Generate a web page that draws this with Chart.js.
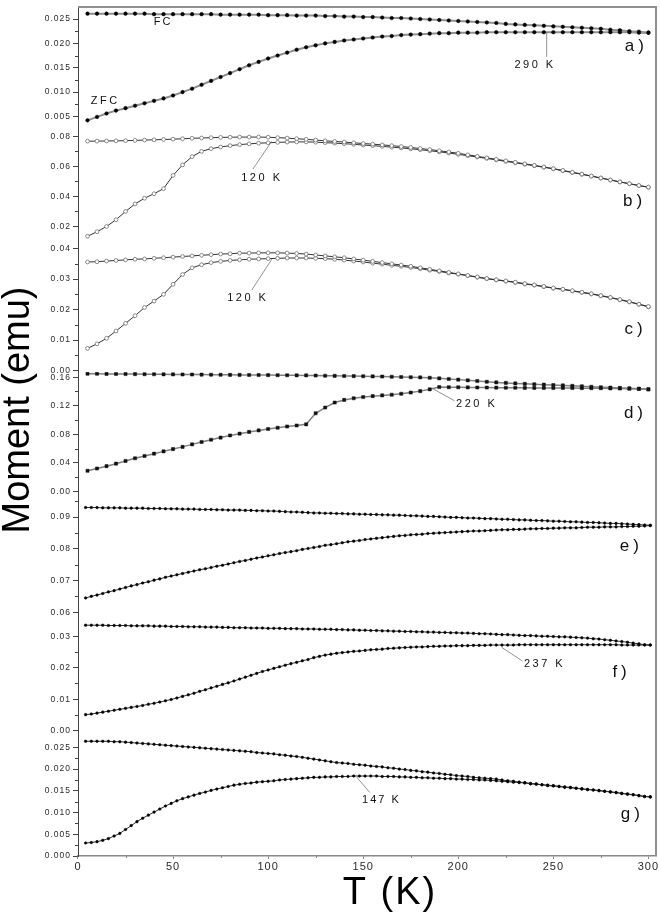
<!DOCTYPE html>
<html>
<head>
<meta charset="utf-8">
<script src="https://cdn.jsdelivr.net/npm/chart.js@4.4.1/dist/chart.umd.min.js"></script>
<style>
  html, body { margin: 0; padding: 0; background: #fff; }
</style>
</head>
<body>
<canvas id="momentChart" width="661" height="913"></canvas>
<script>
// temperatures (K), panels a-d sampled every 5 K, e-g every 3 K
const T5 = [5, 10, 15, 20, 25, 30, 35, 40, 45, 50,
  55, 60, 65, 70, 75, 80, 85, 90, 95, 100,
  105, 110, 115, 120, 125, 130, 135, 140, 145, 150,
  155, 160, 165, 170, 175, 180, 185, 190, 195, 200,
  205, 210, 215, 220, 225, 230, 235, 240, 245, 250,
  255, 260, 265, 270, 275, 280, 285, 290, 295, 300];
const T3 = [4, 7, 10, 13, 16, 19, 22, 25, 28, 31,
  34, 37, 40, 43, 46, 49, 52, 55, 58, 61,
  64, 67, 70, 73, 76, 79, 82, 85, 88, 91,
  94, 97, 100, 103, 106, 109, 112, 115, 118, 121,
  124, 127, 130, 133, 136, 139, 142, 145, 148, 151,
  154, 157, 160, 163, 166, 169, 172, 175, 178, 181,
  184, 187, 190, 193, 196, 199, 202, 205, 208, 211,
  214, 217, 220, 223, 226, 229, 232, 235, 238, 241,
  244, 247, 250, 253, 256, 259, 262, 265, 268, 271,
  274, 277, 280, 283, 286, 289, 292, 295, 298, 301];

// moment (emu)
const aFC = [.0261, .0261, .0261, .0261, .0261, .0261, .0261, .0260, .0260, .0260,
  .0260, .0260, .0260, .0260, .0259, .0259, .0259, .0259, .0259, .0258,
  .0258, .0258, .0257, .0257, .0257, .0256, .0256, .0255, .0255, .0254,
  .0254, .0253, .0252, .0252, .0251, .0250, .0249, .0248, .0247, .0246,
  .0245, .0244, .0243, .0242, .0240, .0239, .0238, .0237, .0236, .0235,
  .0234, .0233, .0232, .0231, .0230, .0228, .0227, .0225, .0224, .0222];
const aZFC = [.0042, .0049, .0056, .0062, .0067, .0072, .0077, .0082, .0087, .0093,
  .0100, .0107, .0115, .0123, .0131, .0139, .0147, .0155, .0162, .0169,
  .0175, .0181, .0187, .0192, .0196, .0200, .0203, .0206, .0208, .0210,
  .0212, .0214, .0215, .0217, .0218, .0219, .0220, .0221, .0221, .0222,
  .0222, .0222, .0223, .0223, .0223, .0223, .0223, .0223, .0223, .0223,
  .0223, .0223, .0223, .0223, .0223, .0223, .0223, .0223, .0222, .0222];

const bFC = [.0768, .0768, .0769, .0770, .0771, .0773, .0775, .0777, .0779, .0781,
  .0784, .0787, .0789, .0791, .0793, .0794, .0795, .0795, .0795, .0794,
  .0791, .0788, .0784, .0780, .0775, .0770, .0766, .0762, .0757, .0752,
  .0748, .0743, .0738, .0732, .0726, .0719, .0712, .0704, .0696, .0687,
  .0677, .0667, .0657, .0647, .0637, .0627, .0617, .0607, .0596, .0585,
  .0573, .0561, .0549, .0536, .0523, .0510, .0497, .0485, .0473, .0462];
const bZFC = [.0135, .0165, .0200, .0245, .0300, .0350, .0388, .0418, .0452, .0540,
  .0610, .0665, .0700, .0718, .0729, .0738, .0745, .0750, .0754, .0757,
  .0760, .0762, .0763, .0763, .0761, .0758, .0755, .0751, .0747, .0742,
  .0738, .0733, .0728, .0723, .0717, .0711, .0704, .0697, .0689, .0680,
  .0671, .0662, .0653, .0643, .0633, .0624, .0614, .0604, .0594, .0583,
  .0571, .0559, .0547, .0535, .0522, .0509, .0496, .0484, .0472, .0461];

const cFC = [.0356, .0357, .0359, .0361, .0363, .0365, .0366, .0368, .0370, .0372,
  .0374, .0376, .0378, .0380, .0382, .0383, .0385, .0385, .0386, .0386,
  .0386, .0385, .0384, .0382, .0379, .0376, .0373, .0370, .0366, .0362,
  .0358, .0354, .0350, .0346, .0342, .0337, .0332, .0327, .0322, .0317,
  .0312, .0307, .0302, .0298, .0294, .0290, .0285, .0281, .0276, .0271,
  .0267, .0262, .0257, .0252, .0246, .0240, .0233, .0226, .0218, .0210];
const cZFC = [.0073, .0088, .0106, .0130, .0155, .0180, .0207, .0228, .0250, .0283,
  .0315, .0337, .0347, .0354, .0358, .0361, .0363, .0365, .0366, .0367,
  .0368, .0369, .0369, .0369, .0368, .0367, .0365, .0362, .0359, .0356,
  .0352, .0349, .0345, .0342, .0338, .0334, .0329, .0325, .0320, .0316,
  .0311, .0306, .0301, .0297, .0293, .0289, .0284, .0280, .0275, .0270,
  .0266, .0261, .0256, .0251, .0245, .0239, .0232, .0225, .0217, .0209];

const dFC = [.1648, .1648, .1646, .1645, .1644, .1643, .1642, .1641, .1640, .1639,
  .1638, .1637, .1636, .1635, .1634, .1633, .1632, .1631, .1630, .1629,
  .1628, .1627, .1626, .1625, .1623, .1621, .1619, .1617, .1615, .1613,
  .1611, .1609, .1606, .1603, .1600, .1597, .1592, .1584, .1575, .1566,
  .1556, .1546, .1536, .1527, .1520, .1513, .1507, .1501, .1496, .1490,
  .1485, .1479, .1473, .1466, .1460, .1455, .1450, .1445, .1440, .1430];
const dZFC = [.0290, .0322, .0355, .0390, .0428, .0465, .0498, .0530, .0562, .0594,
  .0625, .0660, .0693, .0725, .0755, .0785, .0810, .0834, .0855, .0875,
  .0893, .0910, .0924, .0940, .1095, .1175, .1245, .1282, .1305, .1322,
  .1335, .1345, .1355, .1368, .1385, .1405, .1430, .1462, .1460, .1459,
  .1457, .1456, .1455, .1454, .1453, .1452, .1451, .1450, .1450, .1449,
  .1449, .1448, .1447, .1446, .1445, .1443, .1441, .1438, .1435, .1430];

const eFC = [.0930, .0930, .0930, .0929, .0929, .0929, .0929, .0928, .0928, .0928,
  .0928, .0927, .0927, .0927, .0926, .0926, .0926, .0925, .0925, .0925,
  .0924, .0924, .0924, .0923, .0923, .0922, .0922, .0922, .0921, .0921,
  .0920, .0920, .0919, .0919, .0918, .0917, .0916, .0916, .0915, .0914,
  .0913, .0913, .0912, .0912, .0911, .0911, .0910, .0910, .0909, .0909,
  .0908, .0908, .0907, .0907, .0906, .0906, .0905, .0904, .0904, .0903,
  .0902, .0902, .0901, .0900, .0899, .0899, .0898, .0897, .0897, .0896,
  .0895, .0895, .0894, .0893, .0893, .0892, .0891, .0891, .0890, .0889,
  .0889, .0888, .0887, .0887, .0886, .0885, .0885, .0884, .0883, .0883,
  .0882, .0881, .0880, .0880, .0879, .0878, .0877, .0876, .0875, .0874];
const eZFC = [.0645, .0650, .0654, .0659, .0664, .0668, .0673, .0678, .0683, .0687,
  .0692, .0696, .0701, .0705, .0710, .0714, .0718, .0722, .0726, .0730,
  .0734, .0737, .0741, .0745, .0748, .0752, .0756, .0760, .0763, .0767,
  .0771, .0774, .0778, .0781, .0785, .0788, .0791, .0794, .0798, .0801,
  .0804, .0807, .0811, .0813, .0816, .0819, .0822, .0824, .0826, .0829,
  .0831, .0833, .0835, .0837, .0839, .0841, .0842, .0844, .0845, .0846,
  .0848, .0849, .0850, .0851, .0852, .0853, .0854, .0855, .0856, .0856,
  .0857, .0858, .0859, .0860, .0860, .0861, .0861, .0862, .0863, .0863,
  .0864, .0864, .0865, .0865, .0866, .0866, .0866, .0867, .0868, .0868,
  .0868, .0869, .0869, .0869, .0870, .0870, .0871, .0871, .0872, .0873];

const fFC = [.0335, .0335, .0335, .0335, .0334, .0334, .0334, .0334, .0333, .0333,
  .0333, .0333, .0332, .0332, .0332, .0331, .0331, .0331, .0330, .0330,
  .0330, .0329, .0329, .0329, .0328, .0328, .0327, .0327, .0327, .0326,
  .0326, .0326, .0325, .0325, .0325, .0324, .0324, .0324, .0323, .0323,
  .0323, .0322, .0322, .0322, .0321, .0321, .0320, .0320, .0319, .0319,
  .0318, .0318, .0317, .0317, .0316, .0316, .0315, .0315, .0314, .0314,
  .0313, .0313, .0312, .0312, .0311, .0311, .0310, .0310, .0309, .0308,
  .0308, .0307, .0306, .0305, .0305, .0304, .0303, .0302, .0302, .0301,
  .0300, .0300, .0299, .0298, .0298, .0297, .0296, .0295, .0294, .0292,
  .0291, .0289, .0287, .0285, .0283, .0281, .0278, .0276, .0273, .0272];
const fZFC = [.0051, .0053, .0056, .0059, .0062, .0065, .0068, .0071, .0074, .0077,
  .0080, .0084, .0087, .0091, .0095, .0099, .0104, .0109, .0114, .0119,
  .0125, .0130, .0136, .0141, .0147, .0152, .0158, .0164, .0170, .0176,
  .0182, .0188, .0193, .0198, .0203, .0208, .0213, .0217, .0222, .0226,
  .0232, .0236, .0240, .0243, .0246, .0248, .0250, .0252, .0253, .0255,
  .0257, .0258, .0259, .0261, .0262, .0263, .0264, .0265, .0266, .0266,
  .0267, .0268, .0268, .0269, .0269, .0270, .0270, .0270, .0271, .0271,
  .0271, .0272, .0272, .0272, .0272, .0272, .0273, .0273, .0273, .0273,
  .0273, .0273, .0273, .0273, .0273, .0273, .0273, .0273, .0273, .0273,
  .0273, .0273, .0273, .0273, .0272, .0272, .0272, .0272, .0272, .0272];

const gFC = [.0264, .0264, .0264, .0264, .0264, .0263, .0263, .0262, .0261, .0260,
  .0259, .0258, .0257, .0256, .0255, .0254, .0253, .0252, .0251, .0250,
  .0249, .0248, .0247, .0246, .0245, .0244, .0243, .0242, .0241, .0240,
  .0238, .0237, .0236, .0235, .0233, .0232, .0230, .0229, .0227, .0225,
  .0223, .0221, .0219, .0217, .0215, .0214, .0213, .0211, .0210, .0209,
  .0207, .0206, .0205, .0203, .0202, .0200, .0199, .0197, .0196, .0194,
  .0193, .0191, .0190, .0188, .0187, .0185, .0184, .0183, .0181, .0180,
  .0179, .0178, .0177, .0175, .0173, .0172, .0170, .0169, .0167, .0166,
  .0164, .0163, .0162, .0160, .0159, .0158, .0156, .0155, .0153, .0152,
  .0151, .0149, .0148, .0146, .0144, .0143, .0141, .0139, .0137, .0136];
const gZFC = [.0030, .0031, .0033, .0036, .0040, .0046, .0052, .0061, .0070, .0079,
  .0087, .0094, .0101, .0108, .0115, .0121, .0127, .0132, .0136, .0140,
  .0144, .0147, .0151, .0154, .0157, .0160, .0163, .0165, .0167, .0168,
  .0170, .0171, .0172, .0173, .0175, .0176, .0177, .0178, .0179, .0180,
  .0181, .0181, .0182, .0182, .0183, .0183, .0183, .0184, .0184, .0184,
  .0184, .0184, .0183, .0183, .0183, .0182, .0182, .0181, .0181, .0180,
  .0180, .0179, .0179, .0178, .0178, .0177, .0177, .0176, .0176, .0175,
  .0175, .0174, .0173, .0172, .0171, .0170, .0169, .0168, .0166, .0165,
  .0164, .0162, .0161, .0160, .0158, .0157, .0156, .0154, .0153, .0152,
  .0150, .0149, .0147, .0146, .0144, .0142, .0141, .0139, .0137, .0136];

// tick labels
const xTicks = [0, 50, 100, 150, 200, 250, 300];
const ticksA = [0.005, 0.010, 0.015, 0.020, 0.025];
const ticksB = [0.02, 0.04, 0.06, 0.08];
const ticksC = [0.00, 0.01, 0.02, 0.03, 0.04];
const ticksD = [0.00, 0.04, 0.08, 0.12, 0.16];
const ticksE = [0.06, 0.07, 0.08, 0.09];
const ticksF = [0.00, 0.01, 0.02, 0.03];
const ticksG = [0.000, 0.005, 0.010, 0.015, 0.020, 0.025];

// text labels placed in data coordinates of their panel
const notes = [
  { axis: 'ya', t: 44.7, m: 0.0244, text: 'FC', size: 11, gap: 2 },
  { axis: 'ya', t: 14.3, m: 0.0081, text: 'ZFC', size: 11, gap: 2.5 },
  { axis: 'ya', t: 240.4, m: 0.0156, text: '290 K', size: 11, gap: 2.5 },
  { axis: 'ya', t: 293.7, m: 0.0193, text: 'a)', size: 17, gap: 4 },
  { axis: 'yb', t: 96.7, m: 0.0522, text: '120 K', size: 11, gap: 2.5 },
  { axis: 'yb', t: 292.7, m: 0.0365, text: 'b)', size: 17, gap: 4 },
  { axis: 'yc', t: 89.3, m: 0.0237, text: '120 K', size: 11, gap: 2.5 },
  { axis: 'yc', t: 293.2, m: 0.0134, text: 'c)', size: 17, gap: 4 },
  { axis: 'yd', t: 209.7, m: 0.1229, text: '220 K', size: 11, gap: 2.5 },
  { axis: 'yd', t: 293.2, m: 0.1090, text: 'd)', size: 17, gap: 4 },
  { axis: 'ye', t: 291.0, m: 0.0809, text: 'e)', size: 17, gap: 4 },
  { axis: 'yf', t: 245.4, m: 0.0211, text: '237 K', size: 11, gap: 2.5 },
  { axis: 'yf', t: 285.9, m: 0.0184, text: 'f)', size: 17, gap: 4 },
  { axis: 'yg', t: 159.6, m: 0.0128, text: '147 K', size: 11, gap: 2 },
  { axis: 'yg', t: 291.6, m: 0.0095, text: 'g)', size: 17, gap: 4 }
];
const leaders = [
  { axis: 'ya', from: [246.5, 0.02235], to: [246.5, 0.01724] },
  { axis: 'yb', from: [101.9, 0.0767], to: [92.0, 0.0582] },
  { axis: 'yc', from: [101.9, 0.0365], to: [91.4, 0.0264] },
  { axis: 'yd', from: [186.5, 0.1441], to: [198.0, 0.1270] },
  { axis: 'yf', from: [222.8, 0.0265], to: [233.8, 0.0221] },
  { axis: 'yg', from: [146.6, 0.01814], to: [153.4, 0.01464] }
];

const FONT = '"Liberation Sans", Arial, sans-serif';

function panelAxis(min, max, ticks, decimals, weight) {
  return {
    type: 'linear',
    position: 'left',
    stack: 'panels',
    stackWeight: weight,
    min: min,
    max: max,
    border: { color: '#444', width: 1 },
    grid: { drawOnChartArea: false, tickLength: 5, tickColor: '#444' },
    ticks: {
      autoSkip: false,
      padding: 2,
      color: '#2a2a2a',
      font: { family: FONT, size: 8.5 },
      callback: v => v.toFixed(decimals)
    },
    afterBuildTicks: s => { s.ticks = ticks.map(v => ({ value: v })); },
    afterFit: s => { s.width = 78; }
  };
}

function series(temps, vals, axis, style) {
  return Object.assign({
    data: temps.map((t, i) => ({ x: t, y: vals[i] })),
    xAxisID: 'x',
    yAxisID: axis,
    tension: 0,
    fill: false,
    pointHoverRadius: 0
  }, style);
}

// marker styles per panel
const blackDot = { pointStyle: 'circle', pointRadius: 1.8, pointBackgroundColor: '#000', pointBorderColor: '#000', pointBorderWidth: 0.5, borderColor: '#8f8f8f', borderWidth: 2 };
const openDot = { pointStyle: 'circle', pointRadius: 1.9, pointBackgroundColor: '#fff', pointBorderColor: '#707070', pointBorderWidth: 0.8, borderColor: '#333', borderWidth: 1 };
const square = { pointStyle: 'rect', pointRadius: 2.2, pointBackgroundColor: '#111', pointBorderColor: '#111', pointBorderWidth: 0.5, borderColor: '#808080', borderWidth: 1.5 };
const smallDot = { pointStyle: 'circle', pointRadius: 1.3, pointBackgroundColor: '#000', pointBorderColor: '#000', pointBorderWidth: 0.5, borderColor: '#333', borderWidth: 1 };

const panelTicks = { ya: ticksA, yb: ticksB, yc: ticksC, yd: ticksD, ye: ticksE, yf: ticksF, yg: ticksG };

const decorPlugin = {
  id: 'decor',
  beforeDraw(chart) {
    chart.ctx.letterSpacing = '1px';
  },
  afterDraw(chart) {
    const ctx = chart.ctx;
    const area = chart.chartArea;
    const xs = chart.scales.x;
    ctx.save();

    // frame on top and right
    ctx.strokeStyle = '#909090';
    ctx.lineWidth = 2;
    ctx.beginPath();
    ctx.moveTo(area.left, area.top);
    ctx.lineTo(area.right, area.top);
    ctx.lineTo(area.right, area.bottom);
    ctx.stroke();

    // minor ticks
    ctx.strokeStyle = '#444';
    ctx.lineWidth = 1;
    Object.keys(panelTicks).forEach(id => {
      const s = chart.scales[id];
      const t = panelTicks[id];
      const step = t[1] - t[0];
      const mids = [t[0] - step / 2];
      for (let i = 0; i < t.length; i++) mids.push(t[i] + step / 2);
      mids.forEach(v => {
        if (v <= s.min || v >= s.max) return;
        const y = Math.round(s.getPixelForValue(v)) + 0.5;
        ctx.beginPath();
        ctx.moveTo(area.left - 3, y);
        ctx.lineTo(area.left, y);
        ctx.stroke();
      });
    });
    ctx.strokeStyle = '#888';
    for (let i = 0; i < xTicks.length - 1; i++) {
      const x = Math.round(xs.getPixelForValue((xTicks[i] + xTicks[i + 1]) / 2)) + 0.5;
      ctx.beginPath();
      ctx.moveTo(x, area.bottom);
      ctx.lineTo(x, area.bottom + 2);
      ctx.stroke();
    }

    // leader lines
    ctx.strokeStyle = '#777';
    ctx.lineWidth = 0.8;
    leaders.forEach(l => {
      const ys = chart.scales[l.axis];
      ctx.beginPath();
      ctx.moveTo(xs.getPixelForValue(l.from[0]), ys.getPixelForValue(l.from[1]));
      ctx.lineTo(xs.getPixelForValue(l.to[0]), ys.getPixelForValue(l.to[1]));
      ctx.stroke();
    });

    // labels
    ctx.fillStyle = '#111';
    ctx.textAlign = 'center';
    ctx.textBaseline = 'middle';
    notes.forEach(n => {
      ctx.font = n.size + 'px ' + FONT;
      ctx.letterSpacing = n.gap + 'px';
      ctx.fillText(n.text, xs.getPixelForValue(n.t), chart.scales[n.axis].getPixelForValue(n.m));
    });

    // axis titles
    ctx.fillStyle = '#000';
    ctx.textBaseline = 'alphabetic';
    ctx.font = '38px ' + FONT;
    ctx.letterSpacing = '2px';
    ctx.fillText('T (K)', 390, 904);
    ctx.translate(29, 410);
    ctx.rotate(-Math.PI / 2);
    ctx.letterSpacing = '0px';
    ctx.fillText('Moment (emu)', 0, 0);
    ctx.restore();
  }
};

new Chart(document.getElementById('momentChart'), {
  type: 'line',
  data: {
    datasets: [
      series(T5, aFC, 'ya', blackDot),
      series(T5, aZFC, 'ya', blackDot),
      series(T5, bFC, 'yb', openDot),
      series(T5, bZFC, 'yb', openDot),
      series(T5, cFC, 'yc', openDot),
      series(T5, cZFC, 'yc', openDot),
      series(T5, dFC, 'yd', square),
      series(T5, dZFC, 'yd', square),
      series(T3, eFC, 'ye', smallDot),
      series(T3, eZFC, 'ye', smallDot),
      series(T3, fFC, 'yf', smallDot),
      series(T3, fZFC, 'yf', smallDot),
      series(T3, gFC, 'yg', smallDot),
      series(T3, gZFC, 'yg', smallDot)
    ]
  },
  options: {
    responsive: false,
    animation: false,
    events: [],
    layout: { padding: { top: 2, right: 5, left: 0, bottom: 0 } },
    plugins: { legend: { display: false }, tooltip: { enabled: false } },
    scales: {
      x: {
        type: 'linear',
        min: 0,
        max: 304,
        border: { color: '#888', width: 1.5 },
        grid: { drawOnChartArea: false, tickLength: 3, tickColor: '#888' },
        ticks: { autoSkip: false, padding: 1, maxRotation: 0, color: '#2a2a2a', font: { family: FONT, size: 11 } },
        afterBuildTicks: s => { s.ticks = xTicks.map(v => ({ value: v })); },
        afterFit: s => { s.height = 57; }
      },
      // stacked panels: last defined sits on top
      yg: panelAxis(0, 0.02745, ticksG, 3, 120),
      yf: panelAxis(-0.0019, 0.0347, ticksF, 2, 116),
      ye: panelAxis(0.0571, 0.0969, ticksE, 2, 127),
      yd: panelAxis(-0.0051, 0.1674, ticksD, 2, 124),
      yc: panelAxis(-0.0004, 0.0429, ticksC, 2, 133),
      yb: panelAxis(0.0112, 0.0853, ticksB, 2, 112),
      ya: panelAxis(0.00255, 0.02745, ticksA, 3, 122)
    }
  },
  plugins: [decorPlugin]
});
</script>
</body>
</html>
